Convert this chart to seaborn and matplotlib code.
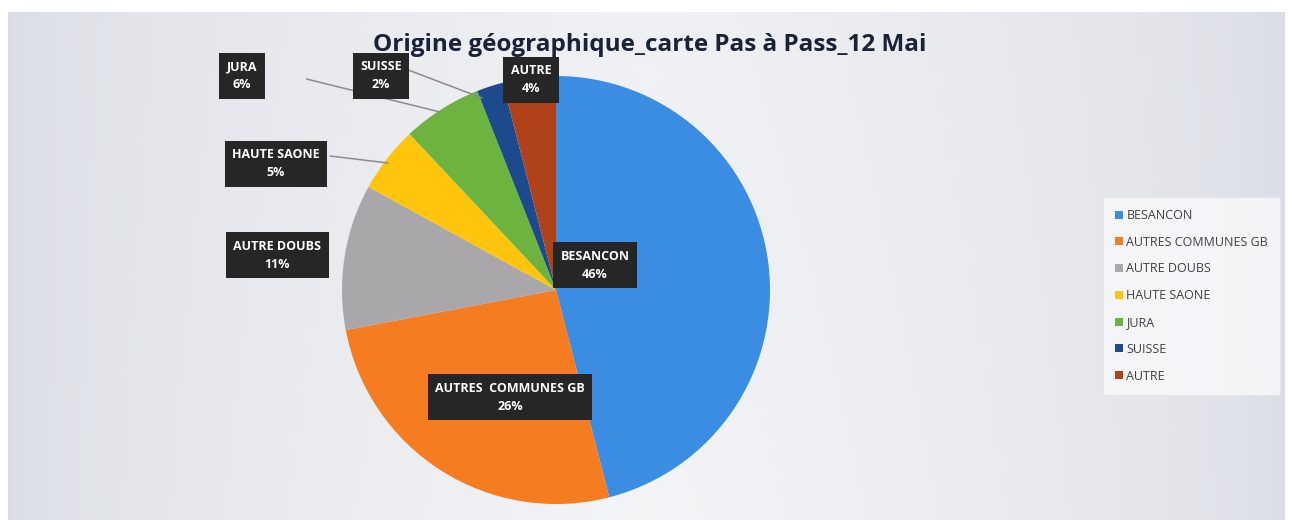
import numpy as np
import matplotlib
matplotlib.use("Agg")
import matplotlib.pyplot as plt
import seaborn as sns

categories = ["BESANCON", "AUTRES COMMUNES GB", "AUTRE DOUBS", "HAUTE SAONE", "JURA", "SUISSE", "AUTRE"]
label_names = ["BESANCON", "AUTRES  COMMUNES GB", "AUTRE DOUBS", "HAUTE SAONE", "JURA", "SUISSE", "AUTRE"]
values = [46, 26, 11, 5, 6, 2, 4]
colors = ["#3B8DE3", "#F57C21", "#A9A7AA", "#FFC40C", "#6DB33F", "#1D4A8C", "#B0421A"]
title = "Origine géographique_carte Pas à Pass_12 Mai"

sns.set_theme(style="white")
plt.rcParams['font.family'] = ['Open Sans', 'DejaVu Sans']

W, H = 1292, 520
fig = plt.figure(figsize=(W / 100, H / 100), dpi=100)
fig.patch.set_facecolor("white")

# background gradient (chart area)
bg = fig.add_axes([8 / W, 0, (1285 - 8) / W, (H - 12) / H], zorder=-5)
xs = np.linspace(0, 1, 400)
ys = np.linspace(0, 1, 100)
X, Y = np.meshgrid(xs, ys)
t = np.clip(1 - np.abs(X - 0.5) * 2, 0, 1) ** 0.6
t = t * (0.85 + 0.15 * Y)
c_edge = np.array([0.855, 0.866, 0.895])
c_mid = np.array([0.955, 0.958, 0.968])
img = c_edge[None, None, :] * (1 - t[..., None]) + c_mid[None, None, :] * t[..., None]
bg.imshow(img, aspect="auto", extent=[0, 1, 0, 1])
bg.set_axis_off()

# pie axes: centre (556,290) px, radius 214 px
cx, cy, r = 556, 290, 214
half = 250
ax = fig.add_axes([(cx - half) / W, (H - cy - half) / H, 2 * half / W, 2 * half / H])

wedges, _ = ax.pie(values, colors=colors, startangle=90, counterclock=False, radius=1,
                   wedgeprops=dict(linewidth=0))
ax.set_xlim(-half / r, half / r)
ax.set_ylim(-half / r, half / r)
ax.set_axis_off()

def d(px, py):
    return ((px - cx) / r, (cy - py) / r)

pcts = [f"{v}%" for v in values]
label_pos = {
    0: (595, 265),
    1: (510, 397),
    2: (277, 255),
    3: (276, 164),
    4: (242, 76),
    5: (381, 76),
    6: (531, 80),
}
leaders = {
    3: [(330, 156), (388, 163)],
    4: [(262, 68), (440, 112)],
    5: [(403, 68), (482, 98)],
}
for i, pts in leaders.items():
    (x0, y0), (x1, y1) = d(*pts[0]), d(*pts[1])
    ax.plot([x0, x1], [y0, y1], color="#8A8C90", lw=1.1, zorder=2)

for i, (px, py) in label_pos.items():
    x, y = d(px, py)
    ax.text(x, y, f"{label_names[i]}\n{pcts[i]}", ha="center", va="center",
            color="white", fontsize=9, fontweight="bold", linespacing=1.5,
            bbox=dict(boxstyle="square,pad=0.6", fc="#262626", ec="none"), zorder=5)

fig.text(650 / W, 1 - 45 / H, title, ha="center", va="center", fontsize=17.5,
         color="#1A2238", fontweight="bold")

leg = fig.legend(wedges, categories, loc="upper left",
                 bbox_to_anchor=(1100 / W, 1 - 194 / H), frameon=True,
                 fontsize=9, handlelength=0.6, handleheight=0.6, handletextpad=0.3,
                 labelspacing=1.1, borderpad=0.7, labelcolor="#404040")
leg.get_frame().set_facecolor("#FAFAFC")
leg.get_frame().set_edgecolor("#E4E5EA")
leg.get_frame().set_linewidth(0.8)
leg.get_frame().set_boxstyle("square")

fig.savefig("out.png", dpi=100)
